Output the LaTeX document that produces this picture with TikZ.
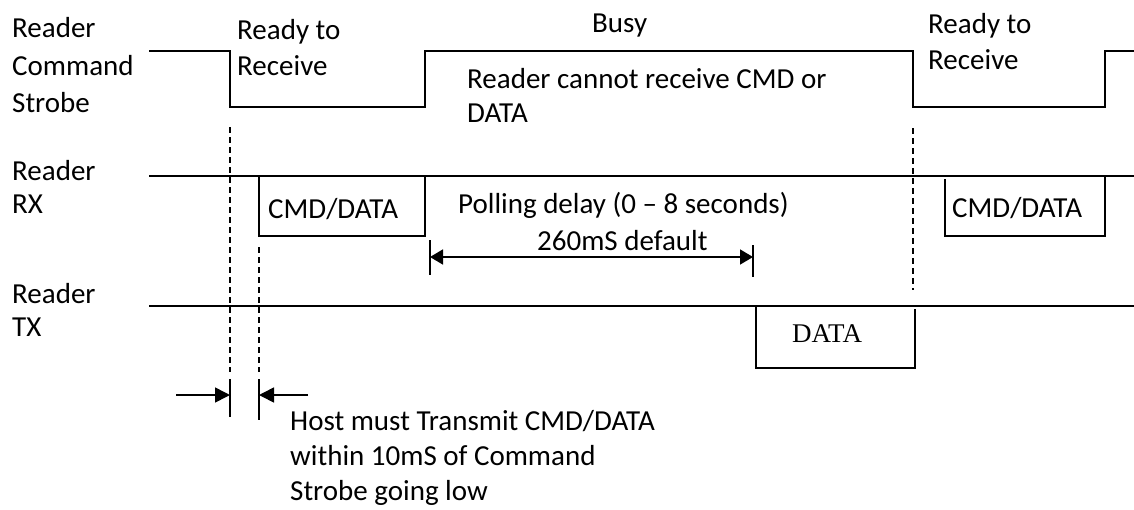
\documentclass[tikz,border=0pt]{standalone}
\usepackage{fontspec}
\setmainfont{Carlito}
\newfontfamily\serifdata{Liberation Serif}
\usetikzlibrary{arrows.meta}
\begin{document}
\begin{tikzpicture}[x=1pt,y=-1pt,
  wave/.style={line width=1.7pt, line join=miter},
  guide/.style={line width=1.7pt, dash pattern=on 6pt off 4pt},
  tick/.style={line width=1.5pt},
  lbl/.style={anchor=base west, inner sep=0pt, font=\fontsize{29}{35}\selectfont},
  datalbl/.style={anchor=base west, inner sep=0pt, font=\serifdata\fontsize{27}{32}\selectfont},
  dimone/.style={line width=1.6pt, -{Triangle[length=15pt,width=15pt]}},
  dimtwo/.style={line width=1.6pt, {Triangle[length=13pt,width=15pt]}-{Triangle[length=13pt,width=15pt]}}]
\useasboundingbox (0,0) rectangle (1134,509);
\fill[white] (0,0) rectangle (1134,509);

% signal labels
\node[lbl] (s1) at (12,37) {Reader};
\node[lbl] (s2) at (12,75) {Command};
\node[lbl] (s3) at (12,112) {Strobe};
\node[lbl] (r1) at (12,180) {Reader};
\node[lbl] (r2) at (12,213) {RX};
\node[lbl] (t1) at (12,303) {Reader};
\node[lbl] (t2) at (12,336) {TX};

% strobe waveform
\draw[wave] (149,51) -- (230,51) -- (230,107) -- (425,107) -- (425,51)
  -- (913,51) -- (913,107) -- (1105,107) -- (1105,51) -- (1134,51);

% RX
\draw[wave] (149,176) -- (1134,176);
\draw[wave] (259,176) -- (259,236) -- (425,236) -- (425,176);
\draw[wave] (945,179) -- (945,236) -- (1105,236) -- (1105,176);

% TX
\draw[wave] (149,306) -- (1134,306);
\draw[wave] (756,306) -- (756,368) -- (915,368) -- (915,309);

% guides
\draw[guide] (230,127) -- (230,372);
\draw[guide] (259,247) -- (259,372);
\draw[guide] (913,128) -- (913,290);

% texts
\node[lbl] (rr1) at (237,39) {Ready to};
\node[lbl] (rr2) at (237,75) {Receive};
\node[lbl] (busy) at (592,32) {Busy};
\node[lbl] (nc1) at (467,88) {Reader cannot receive CMD or};
\node[lbl] (nc2) at (467,122) {DATA};
\node[lbl] (rr3) at (928,33) {Ready to};
\node[lbl] (rr4) at (928,69) {Receive};
\node[lbl] (cd1) at (268,218) {CMD/DATA};
\node[lbl] (cd2) at (952,217) {CMD/DATA};
\node[lbl] (poll) at (458,213) {Polling delay (0 -- 8 seconds)};
\node[lbl] (def) at (537,250) {260mS default};
\node[datalbl] (txd) at (792,342) {DATA};
\node[lbl] (h1) at (290,430) {Host must Transmit CMD/DATA};
\node[lbl] (h2) at (290,465) {within 10mS of Command};
\node[lbl] (h3) at (290,500) {Strobe going low};

% polling delay dimension
\coordinate (pa) at (430,257);
\coordinate (pb) at (753,257);
\draw[tick] (430,240) -- (430,275);
\draw[tick] (753,245) -- (753,277);
\draw[dimtwo] (pa) -- (pb);

% host timing dimension
\draw[tick] (230,379) -- (230,417);
\draw[tick] (259,379) -- (259,420);
\coordinate (ha0) at (176,395);
\coordinate (ha1) at (230,395);
\coordinate (hb0) at (308,395);
\coordinate (hb1) at (259,395);
\draw[dimone] (ha0) -- (ha1);
\draw[dimone] (hb0) -- (hb1);
\end{tikzpicture}
\end{document}
